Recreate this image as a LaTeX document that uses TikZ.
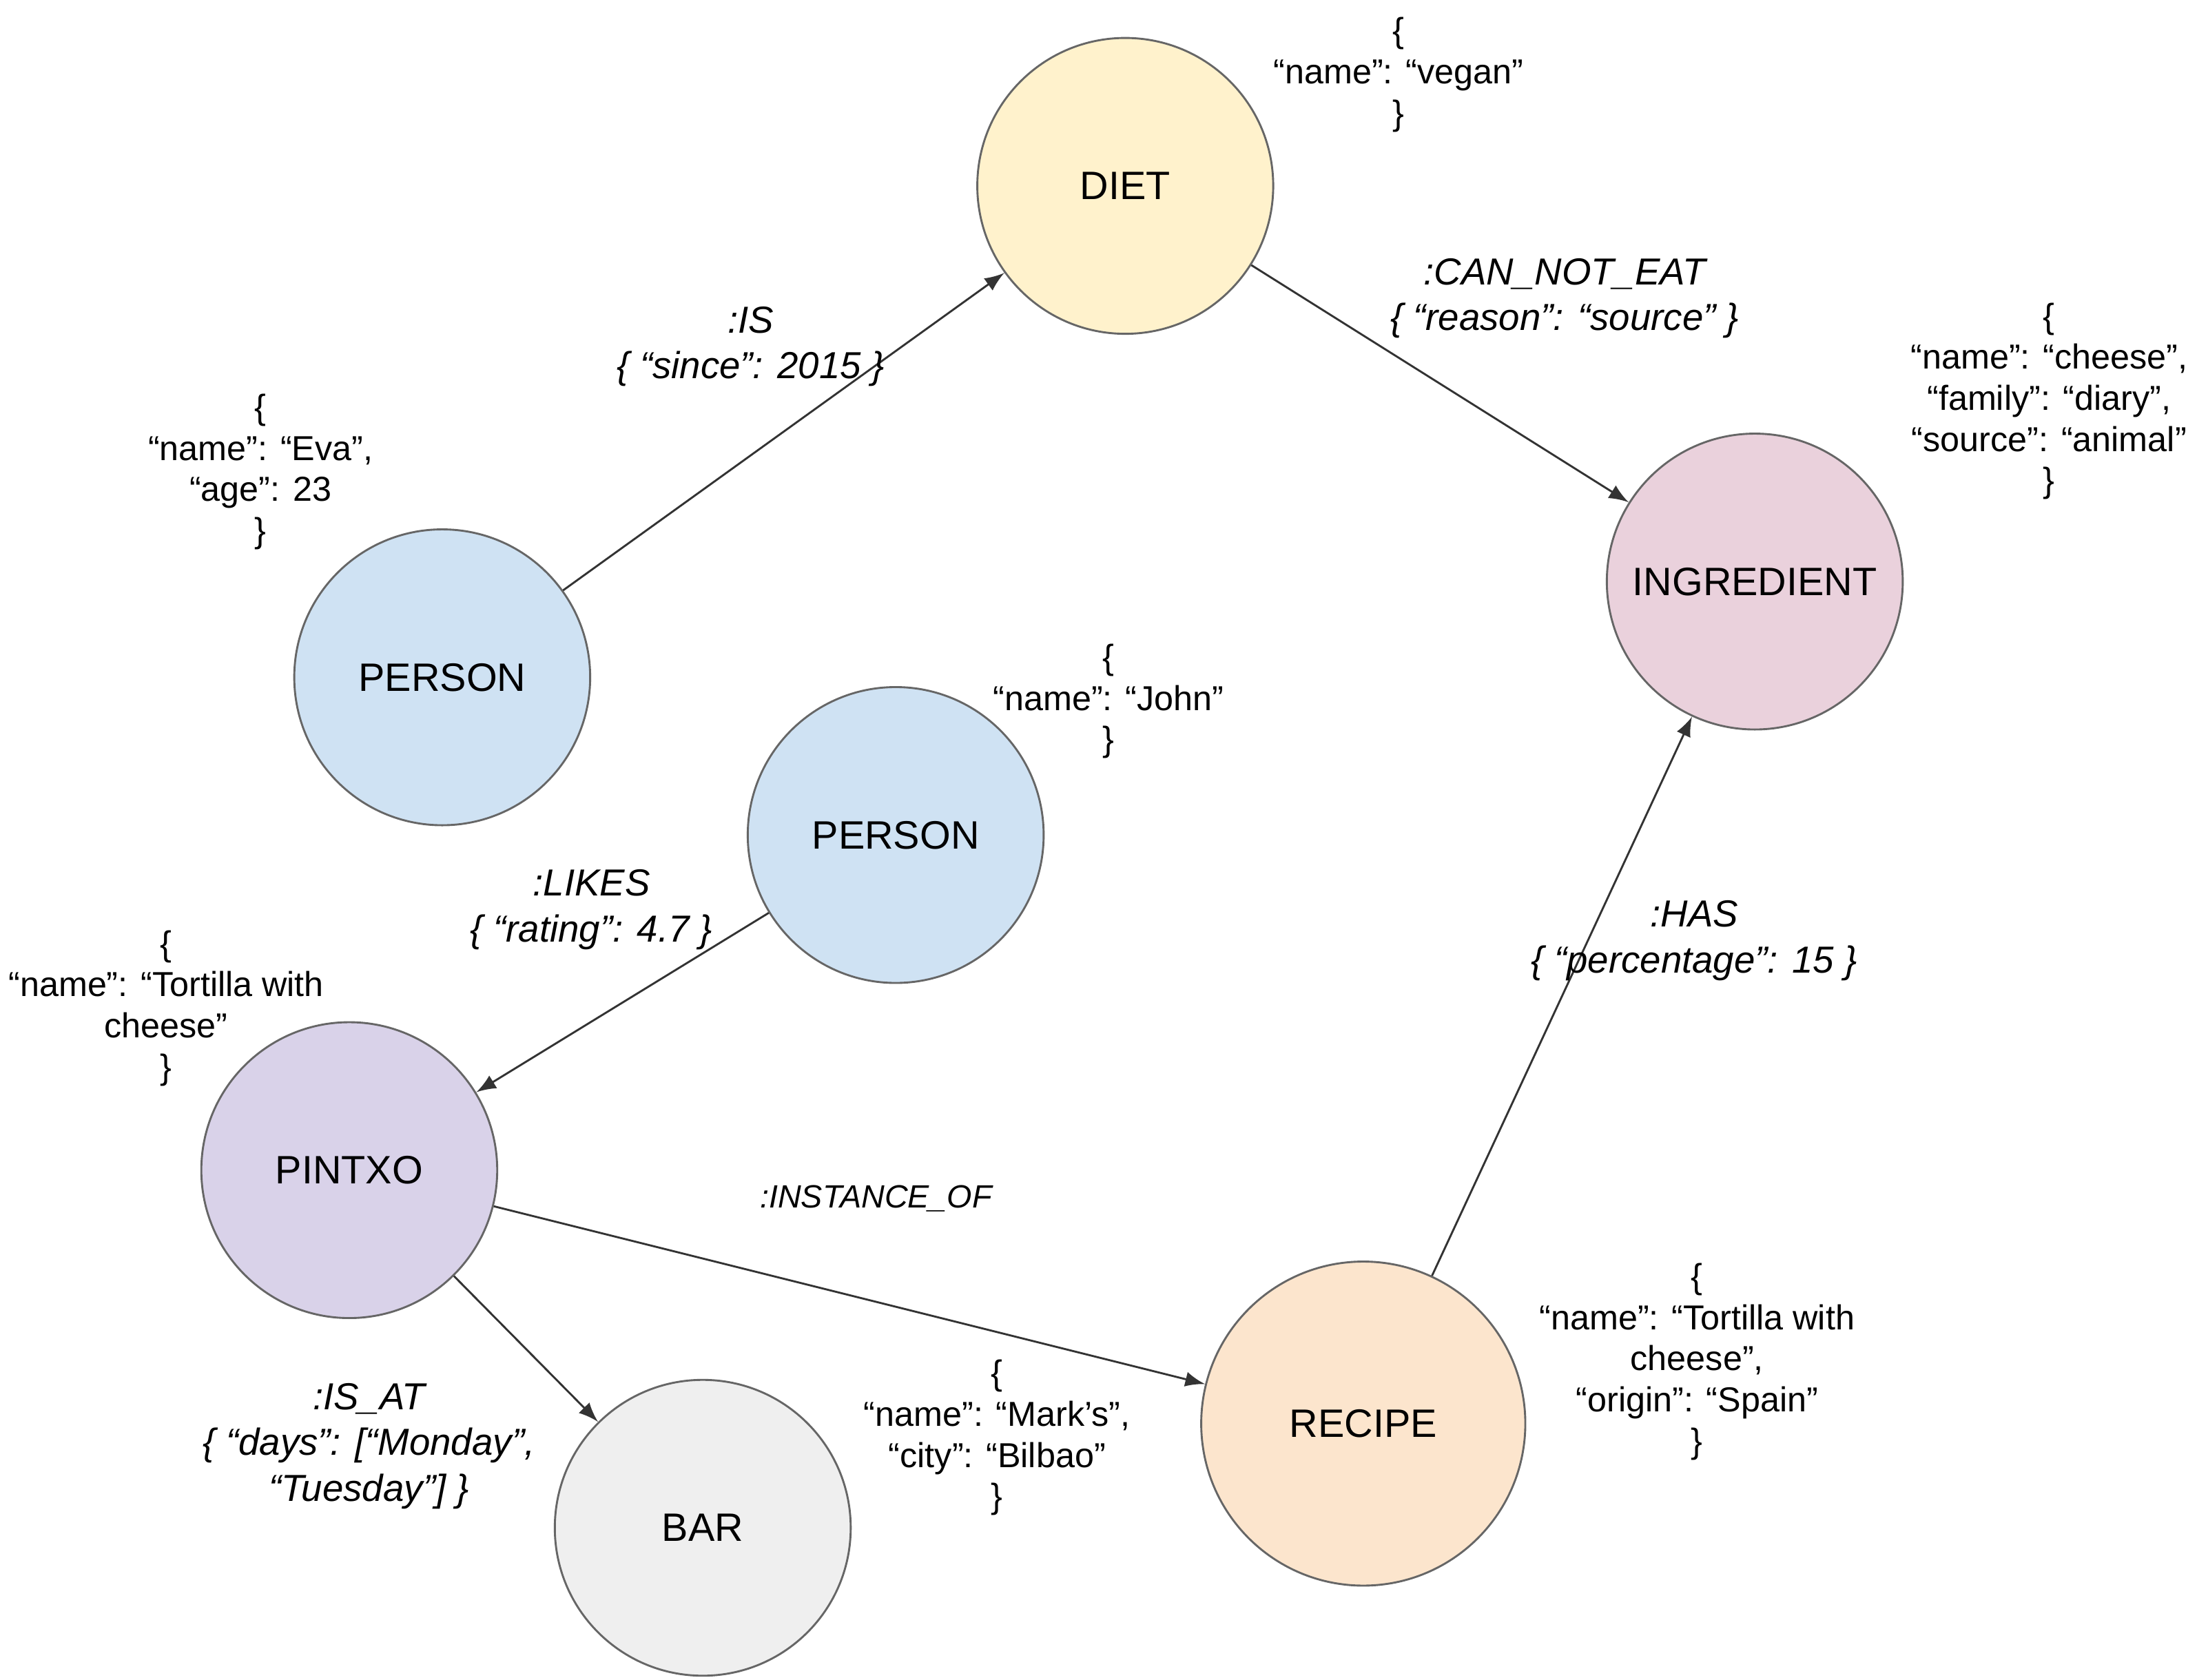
\documentclass[tikz,border=0pt]{standalone}
\usepackage{fontspec}
\setmainfont{Liberation Sans}
\begin{document}
\begin{tikzpicture}[x=0.01cm,y=-0.01cm]
\tikzstyle{main}=[circle, minimum size = 2.1cm, inner sep=0pt, draw=black!60, font=\fontsize{8}{9.6}\selectfont]
\tikzstyle{connect}=[-latex, draw=black!80]
\tikzstyle{prop}=[align=center, font=\fontsize{7}{8.3}\selectfont]
\tikzstyle{rel}=[align=center, font=\fontsize{7.6}{9.2}\selectfont\itshape]
  \useasboundingbox (0,0) rectangle (1560,1193);
  \node[main, fill={rgb,255:red,255;green,242;blue,204}] (diet) at (799,132) {DIET};
  \node[main, fill={rgb,255:red,234;green,209;blue,220}] (ingredient) at (1246,413) {INGREDIENT};
  \node[main, fill={rgb,255:red,207;green,226;blue,243}] (eva) at (314,481) {PERSON};
  \node[main, fill={rgb,255:red,207;green,226;blue,243}] (john) at (636,593) {PERSON};
  \node[main, fill={rgb,255:red,217;green,210;blue,233}] (pintxo) at (248,831) {PINTXO};
  \node[main, fill={rgb,255:red,239;green,239;blue,239}] (bar) at (499,1085) {BAR};
  \node[main, minimum size=2.3cm, fill={rgb,255:red,252;green,229;blue,205}] (recipe) at (968,1011) {RECIPE};
  \path (eva) edge [connect] (diet)
        (diet) edge [connect] (ingredient)
        (john) edge [connect] (pintxo)
        (pintxo) edge [connect] (recipe)
        (pintxo) edge [connect] (bar)
        (recipe) edge [connect] (ingredient);
  % properties
  \node[prop] (evaprop) at (185,335) {\{\\“name”: “Eva”,\\“age”: 23\\\}};
  \node[prop] (dietprop) at (993,53) {\{\\“name”: “vegan”\\\}};
  \node[prop] (johnprop) at (787,498) {\{\\“name”: “John”\\\}};
  \node[prop] (ingprop) at (1455,285) {\{\\“name”: “cheese”,\\“family”: “diary”,\\“source”: “animal”\\\}};
  \node[prop] (pintxoprop) at (118,716) {\{\\“name”: “Tortilla with\\cheese”\\\}};
  \node[prop] (barprop) at (708,1021) {\{\\“name”: “Mark’s”,\\“city”: “Bilbao”\\\}};
  \node[prop] (recipeprop) at (1205,967) {\{\\“name”: “Tortilla with\\cheese”,\\“origin”: “Spain”\\\}};
  % relations
  \node[rel] (is) at (533,246) {:IS\\\{ “since”: 2015 \}};
  \node[rel] (cannot) at (1111,212) {:CAN\_NOT\_EAT\\\{ “reason”: “source” \}};
  \node[rel] (likes) at (420,646) {:LIKES\\\{ “rating”: 4.7 \}};
  \node[rel] (has) at (1203,668) {:HAS\\\{ “percentage”: 15 \}};
  \node[rel, font=\fontsize{6.5}{8}\selectfont\itshape] (instance) at (622,851) {:INSTANCE\_OF};
  \node[rel] (isat) at (262,1027) {:IS\_AT\\\{ “days”: [“Monday”,\\“Tuesday”] \}};
\end{tikzpicture}
\end{document}
